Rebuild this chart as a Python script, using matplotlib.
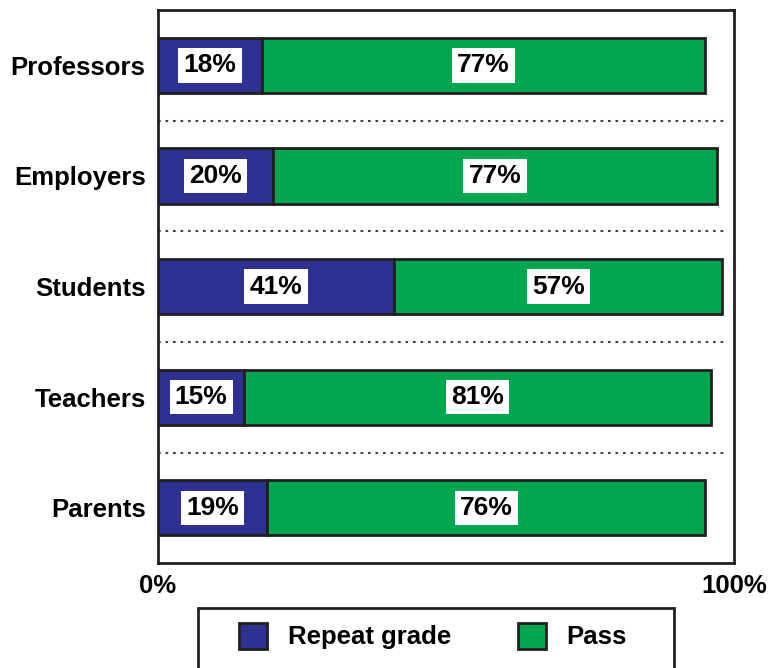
import matplotlib.pyplot as plt
from matplotlib.patches import Patch, Rectangle

groups = ["Professors", "Employers", "Students", "Teachers", "Parents"]
repeat_grade = [18, 20, 41, 15, 19]
passed = [77, 77, 57, 81, 76]
x_ticks = [0, 100]
x_tick_labels = ["0%", "100%"]

blue = "#2e3192"
green = "#00a54f"
dark = "#231f20"

plt.rcParams["font.family"] = ["Liberation Sans", "DejaVu Sans"]
plt.rcParams["font.weight"] = "bold"

fig = plt.figure(figsize=(7.69, 6.68), dpi=100)
ax = fig.add_axes([0.2055, 0.157, 0.749, 0.828])

ypos = list(range(len(groups)))
ax.barh(ypos, repeat_grade, height=0.5, color=blue, edgecolor=dark, linewidth=2)
ax.barh(ypos, passed, left=repeat_grade, height=0.5, color=green, edgecolor=dark, linewidth=2)

for i in ypos:
    ax.text(repeat_grade[i] / 2, i, f"{repeat_grade[i]}%", ha="center", va="center",
            fontsize=19, fontweight="bold",
            bbox=dict(boxstyle="square,pad=0.2", fc="white", ec="none"))
    ax.text(repeat_grade[i] + passed[i] / 2, i, f"{passed[i]}%", ha="center", va="center",
            fontsize=19, fontweight="bold",
            bbox=dict(boxstyle="square,pad=0.2", fc="white", ec="none"))

# dotted separators between groups
for i in ypos[:-1]:
    ax.axhline(i + 0.5, xmin=0, xmax=0.99, color="#444444", lw=1.5, ls=(0, (1.3, 2.3)))

ax.set_xlim(0, 100)
ax.set_ylim(len(groups) - 0.5, -0.5)
ax.set_yticks(ypos)
ax.set_yticklabels(groups, fontsize=18.5, fontweight="bold")
ax.set_xticks(x_ticks)
ax.set_xticklabels(x_tick_labels, fontsize=18.5, fontweight="bold")
ax.tick_params(length=0, axis="y", pad=9)
ax.tick_params(length=0, axis="x", pad=8)
for s in ax.spines.values():
    s.set_color(dark)
    s.set_linewidth(2)

# legend frame (runs off the bottom edge like the original)
fig.patches.append(Rectangle((198 / 769, -0.05), 476 / 769, 0.05 + 60 / 668,
                             transform=fig.transFigure, fill=False,
                             edgecolor=dark, linewidth=2))
handles = [Patch(facecolor=blue, edgecolor=dark, lw=2, label="Repeat grade"),
           Patch(facecolor=green, edgecolor=dark, lw=2, label="Pass")]
leg = fig.legend(handles=handles, loc="upper left", bbox_to_anchor=(239 / 769, 1 - 623 / 668),
                 ncol=2, fontsize=18.5, frameon=False,
                 handlelength=1.1, handleheight=1.15, handletextpad=0.8,
                 columnspacing=2.6, borderpad=0, borderaxespad=0)
for t in leg.get_texts():
    t.set_fontweight("bold")

fig.savefig("out.png", dpi=100)
